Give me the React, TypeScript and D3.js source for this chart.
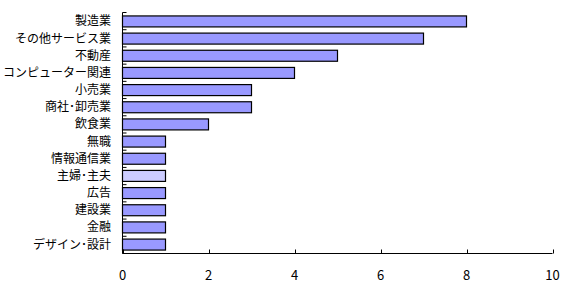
import React from "react";
import * as d3 from "d3";

const categories = ["製造業","その他サービス業","不動産","コンピューター関連","小売業","商社･卸売業","飲食業","無職","情報通信業","主婦･主夫","広告","建設業","金融","デザイン･設計"];
const values = [8,7,5,4,3,3,2,1,1,1,1,1,1,1];
const highlighted = ["主婦･主夫"];
const xTicks = [0,2,4,6,8,10];

export default function App() {
  const W = 568, H = 294;
  const left = 122.5, right = 552.5, top = 12.5, bottom = 253.5;
  const x = d3.scaleLinear().domain([0, 10]).range([left, right]);
  const y = d3.scaleBand<string>().domain(categories).range([top, bottom]).paddingInner(0.36).paddingOuter(0.2);
  const step = (bottom - top) / categories.length;
  const font = "'Noto Sans CJK JP', sans-serif";
  return (
    <svg width={W} height={H} style={{ position: "absolute", left: 0, top: 0 }}>
      <rect width={W} height={H} fill="#fff" />
      {d3.range(categories.length + 1).map(i => (
        <line key={"yt" + i} x1={left} x2={left + 4} y1={top + i * step} y2={top + i * step} stroke="#000" />
      ))}
      {categories.map((c, i) => (
        <rect key={c} x={x(0)} y={y(c)!} width={x(values[i]) - x(0)} height={y.bandwidth()}
          fill={highlighted.includes(c) ? "#CCCCFF" : "#9999FF"} stroke="#000" strokeWidth={1.2} />
      ))}
      <line x1={left} x2={left} y1={top} y2={bottom} stroke="#000" />
      <line x1={left} x2={right} y1={bottom} y2={bottom} stroke="#000" />
      {xTicks.map(t => (
        <line key={"xt" + t} x1={Math.round(x(t)) + 0.5} x2={Math.round(x(t)) + 0.5} y1={bottom} y2={bottom - 4} stroke="#000" />
      ))}
      {xTicks.map(t => (
        <text key={"xl" + t} x={x(t)} y={280} textAnchor="middle" fontFamily={font} fontSize={13} fill="#000">{t}</text>
      ))}
      {categories.map(c => (
        <text key={"yl" + c} x={111} y={y(c)! + y.bandwidth() / 2 + 4} textAnchor="end" fontFamily={font} fontSize={12} fill="#000">{c}</text>
      ))}
    </svg>
  );
}
